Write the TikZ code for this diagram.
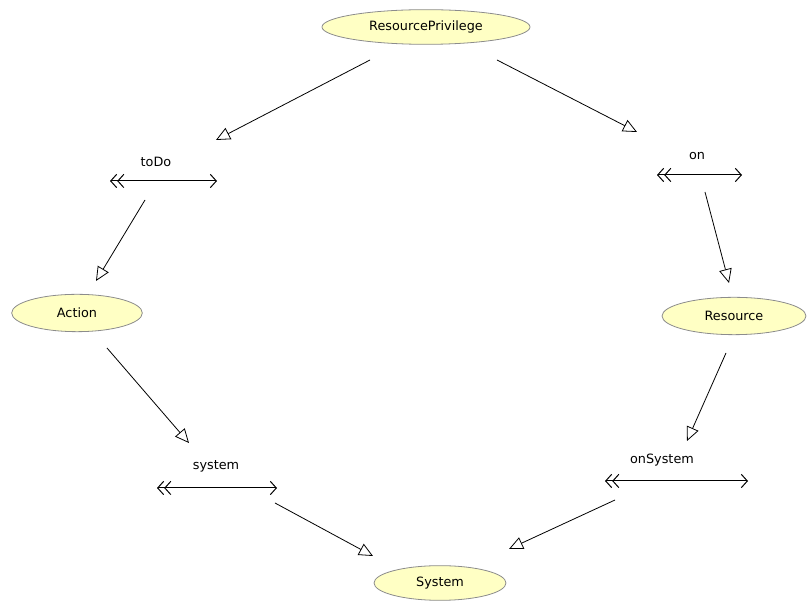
\documentclass[tikz,border=0pt]{standalone}
\usepackage{fontspec}
\setmainfont{DejaVu Sans}
\usetikzlibrary{arrows.meta,shapes.geometric}
\begin{document}
\begin{tikzpicture}[x=0.75pt,y=-0.75pt,
  cls/.style={ellipse,draw=black!45,fill={rgb,255:red,255;green,255;blue,196},line width=0.6pt,inner sep=0pt,font=\fontsize{9.6}{11}\selectfont},
  lbl/.style={font=\fontsize{9.6}{11}\selectfont,inner sep=1pt},
  gen/.style={line width=0.6pt,-{Triangle[open,length=10.5pt,width=9.5pt,fill=white]}},
  rel/.style={line width=0.75pt,{Straight Barb[length=4.5pt,width=10pt,sep=1.5pt]Straight Barb[length=4.5pt,width=10pt]}-{Straight Barb[length=4.5pt,width=10pt]}}]
\useasboundingbox (0,0) rectangle (808,605);
% classes
\node[cls,minimum width=156pt,minimum height=26pt] (rp) at (426,27) {ResourcePrivilege};
\node[cls,minimum width=98pt,minimum height=28pt] (action) at (77,313) {Action};
\node[cls,minimum width=108pt,minimum height=28pt] (resource) at (734,316) {Resource};
\node[cls,minimum width=99pt,minimum height=26pt] (system) at (440,583) {System};
% relation lines
\coordinate (todoL) at (108,181); \coordinate (todoR) at (217,181);
\coordinate (onL) at (655,175); \coordinate (onR) at (742,175);
\coordinate (sysL) at (155,488); \coordinate (sysR) at (277,488);
\coordinate (onsL) at (603,481); \coordinate (onsR) at (748,481);
\draw[rel] (todoL) -- (todoR);
\draw[rel] (onL) -- (onR);
\draw[rel] (sysL) -- (sysR);
\draw[rel] (onsL) -- (onsR);
\node[lbl] (todo) at (156,162) {toDo};
\node[lbl] (on) at (697,156) {on};
\node[lbl] (syslbl) at (216,466) {system};
\node[lbl] (onsys) at (662,460) {onSystem};
% connector end points
\coordinate (a1) at (370,60); \coordinate (a2) at (216,140);
\coordinate (b1) at (497,60); \coordinate (b2) at (637,132);
\coordinate (c1) at (145,200); \coordinate (c2) at (96,281);
\coordinate (d1) at (705,192); \coordinate (d2) at (729,283);
\coordinate (e1) at (107,348); \coordinate (e2) at (189,443);
\coordinate (f1) at (726,353); \coordinate (f2) at (687,441);
\coordinate (g1) at (275,503); \coordinate (g2) at (373,556);
\coordinate (h1) at (615,500); \coordinate (h2) at (509,549);
\draw[gen] (a1) -- (a2);
\draw[gen] (b1) -- (b2);
\draw[gen] (c1) -- (c2);
\draw[gen] (d1) -- (d2);
\draw[gen] (e1) -- (e2);
\draw[gen] (f1) -- (f2);
\draw[gen] (g1) -- (g2);
\draw[gen] (h1) -- (h2);
\end{tikzpicture}
\end{document}
